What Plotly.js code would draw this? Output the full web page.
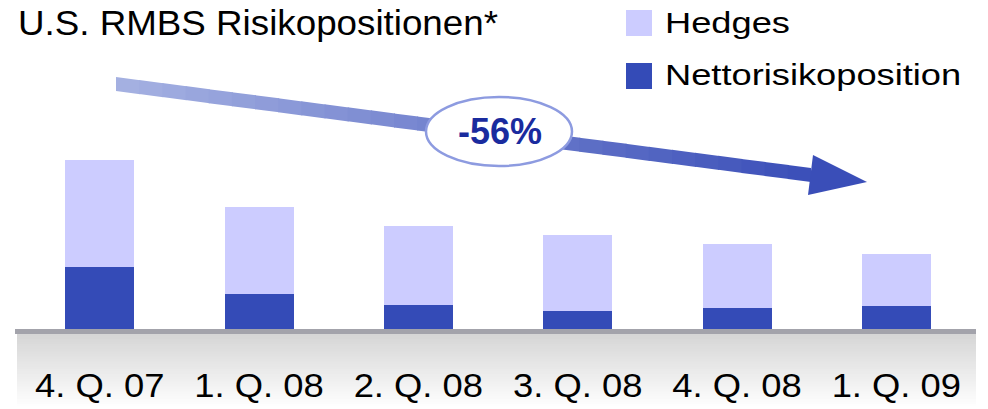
<!DOCTYPE html>
<html>
<head>
<meta charset="utf-8">
<script src="https://cdn.plot.ly/plotly-3.0.1.min.js"></script>
<style>
  body { margin: 0; background: #fff; }
  #chart { width: 988px; height: 409px; }
</style>
</head>
<body>
<div id="chart"></div>
<script>
const quarters = ['4. Q. 07', '1. Q. 08', '2. Q. 08', '3. Q. 08', '4. Q. 08', '1. Q. 09'];
const netto = [62, 35, 24, 18, 21, 23];
const hedges = [107, 87, 79, 76, 64, 52];
const seriesNames = ['Hedges', 'Nettorisikoposition'];

const FONT = 'Liberation Sans, Arial, sans-serif';
const C_HEDGE = '#ccccff';
const C_NET = '#344bb7';

// plot area: l=20, r=12, t=0, b=80 -> 1 y unit = 1 px
const W = 988, H = 409, L = 20, R = 12, B = 80;
const PW = W - L - R, PH = H - B;
const px = x => (x - L) / PW;
const py = y => (PH - y) / PH;

const totals = netto.map((v, i) => v + hedges[i]);
const change = Math.round((totals[totals.length - 1] / totals[0] - 1) * 100);

const shapes = [];

// baseline and grey fade band under the axis
shapes.push({ type: 'rect', xref: 'paper', yref: 'paper', layer: 'below',
  x0: px(15), x1: px(976), y0: py(334), y1: py(329),
  fillcolor: '#a3a3ab', line: { width: 0 } });
const bandSteps = 30;
for (let i = 0; i < bandSteps; i++) {
  const t = i / (bandSteps - 1);
  const g = Math.round(214 + (255 - 214) * t);
  const y0 = 334 + i * (75 / bandSteps);
  shapes.push({ type: 'rect', xref: 'paper', yref: 'paper', layer: 'below',
    x0: px(17), x1: px(976), y0: py(y0 + 75 / bandSteps + 0.5), y1: py(y0),
    fillcolor: `rgb(${g},${g},${g})`, line: { width: 0 } });
}

// gradient arrow shaft
const ax0 = 116, ay0 = 84, ax1 = 811, ay1 = 175, half = 7;
const c0 = [166, 178, 226], c1 = [58, 78, 184];
const segs = 30;
const yc = x => ay0 + (ay1 - ay0) * (x - ax0) / (ax1 - ax0);
for (let i = 0; i < segs; i++) {
  const xa = ax0 + (ax1 - ax0) * i / segs;
  const xb = Math.min(ax1, ax0 + (ax1 - ax0) * (i + 1) / segs + 1);
  const t = (i + 0.5) / segs;
  const col = c0.map((c, k) => Math.round(c + (c1[k] - c) * t));
  shapes.push({ type: 'path', xref: 'paper', yref: 'paper',
    path: `M${px(xa)},${py(yc(xa) - half)} L${px(xb)},${py(yc(xb) - half)} L${px(xb)},${py(yc(xb) + half)} L${px(xa)},${py(yc(xa) + half)} Z`,
    fillcolor: `rgb(${col.join(',')})`, line: { width: 0 } });
}
// arrow head
shapes.push({ type: 'path', xref: 'paper', yref: 'paper',
  path: `M${px(813)},${py(155)} L${px(867)},${py(182)} L${px(808)},${py(195)} Z`,
  fillcolor: 'rgb(58,78,184)', line: { width: 0 } });

// ellipse round the change label
shapes.push({ type: 'circle', xref: 'paper', yref: 'paper',
  x0: px(426), x1: px(572), y0: py(166), y1: py(97),
  fillcolor: '#ffffff', line: { color: '#8d9be0', width: 2.5 } });

// legend boxes
shapes.push({ type: 'rect', xref: 'paper', yref: 'paper',
  x0: px(626), x1: px(652), y0: py(36), y1: py(10), fillcolor: C_HEDGE, line: { width: 0 } });
shapes.push({ type: 'rect', xref: 'paper', yref: 'paper',
  x0: px(626), x1: px(652), y0: py(89), y1: py(63), fillcolor: C_NET, line: { width: 0 } });

const annotations = [
  { xref: 'paper', yref: 'paper', x: px(500), y: py(131), xanchor: 'center', yanchor: 'middle',
    text: `<b>${change}%</b>`, showarrow: false, font: { family: FONT, size: 36, color: '#1a2b9e' } },
  { xref: 'paper', yref: 'paper', x: px(663), y: py(23), xanchor: 'left', yanchor: 'middle', align: 'left',
    text: seriesNames[0], showarrow: false, font: { family: FONT, size: 29, color: '#000' } },
  { xref: 'paper', yref: 'paper', x: px(663), y: py(75), xanchor: 'left', yanchor: 'middle', align: 'left',
    text: seriesNames[1], showarrow: false, font: { family: FONT, size: 29, color: '#000' } },
];

const traces = [
  { x: quarters, y: netto, name: seriesNames[1], type: 'bar',
    marker: { color: C_NET }, hoverinfo: 'skip' },
  { x: quarters, y: hedges, name: seriesNames[0], type: 'bar',
    marker: { color: C_HEDGE }, hoverinfo: 'skip' },
];

const layout = {
  width: W, height: H,
  margin: { l: L, r: R, t: 0, b: B },
  paper_bgcolor: '#fff', plot_bgcolor: '#fff',
  barmode: 'stack', bargap: 0.567,
  showlegend: false,
  title: { text: 'U.S. RMBS Risikopositionen*', xref: 'container', yref: 'container',
    x: 18 / W, xanchor: 'left', y: 1 - 23 / H, yanchor: 'middle',
    font: { family: FONT, size: 35, color: '#000' } },
  xaxis: { type: 'category', range: [-0.5, 5.5], showline: false, showgrid: false, zeroline: false,
    ticks: '', ticklabelstandoff: 33, fixedrange: true,
    tickfont: { family: FONT, size: 34, color: '#000' } },
  yaxis: { range: [0, PH], visible: false, fixedrange: true },
  shapes, annotations,
};

function stretch(el, f) {
  if (!el) return;
  el.setAttribute('textLength', el.getComputedTextLength() * f);
  el.setAttribute('lengthAdjust', 'spacingAndGlyphs');
}

Plotly.newPlot('chart', traces, layout, { displayModeBar: false, staticPlot: true }).then(gd => {
  gd.querySelectorAll('.xtick text').forEach(t => stretch(t, 1.07));
  const ann = gd.querySelectorAll('.annotation-text');
  stretch(ann[1], 1.25);
  stretch(ann[2], 1.25);
  stretch(gd.querySelector('.gtitle'), 1.05);
});
</script>
</body>
</html>
